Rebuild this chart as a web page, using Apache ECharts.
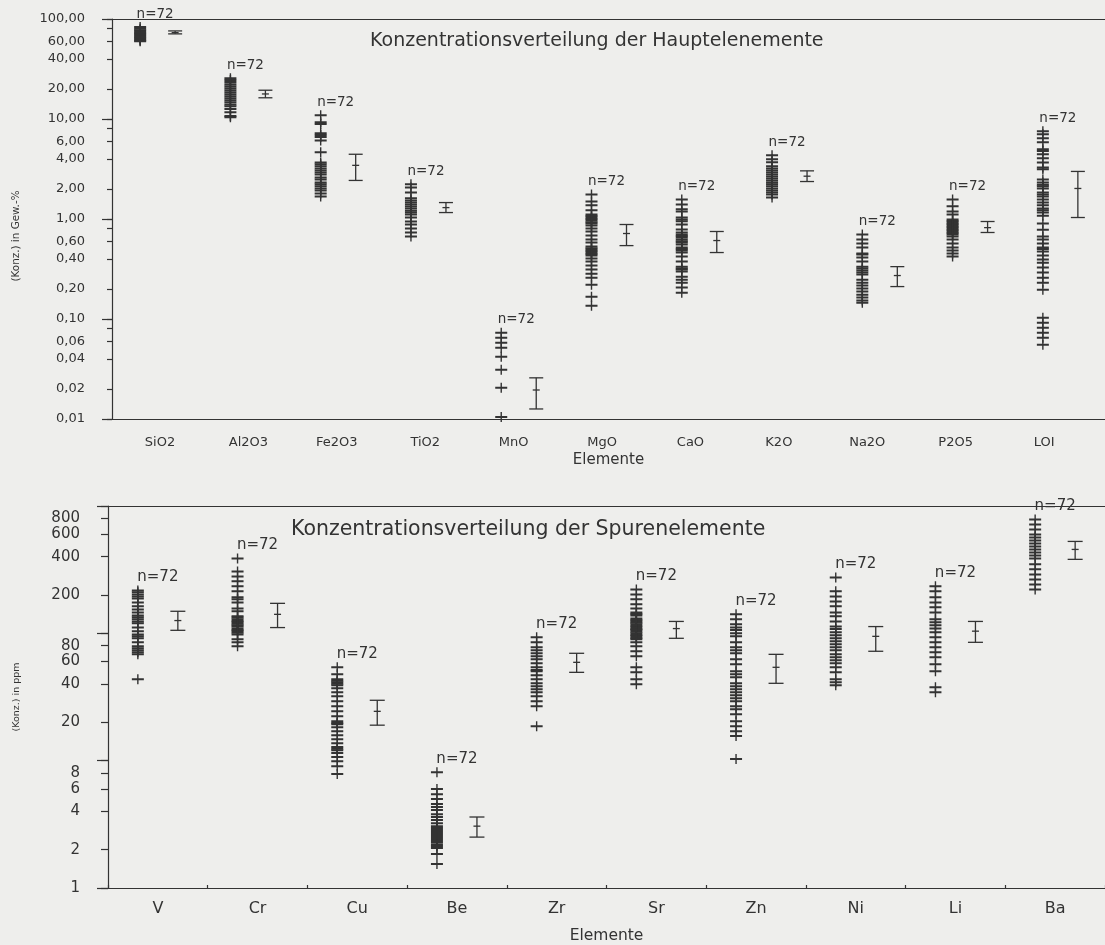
<!DOCTYPE html>
<html>
<head>
<meta charset="utf-8">
<script src="https://cdn.jsdelivr.net/npm/echarts@6/dist/echarts.min.js"></script>
<style>
  html, body { margin: 0; padding: 0; background: #eeeeec; }
  #chart { width: 1105px; height: 945px; }
</style>
</head>
<body>
<div id="chart"></div>
<script>
// categories
const majorElements = ['SiO2', 'Al2O3', 'Fe2O3', 'TiO2', 'MnO', 'MgO', 'CaO', 'K2O', 'Na2O', 'P2O5', 'LOI'];
const traceElements = ['V', 'Cr', 'Cu', 'Be', 'Zr', 'Sr', 'Zn', 'Ni', 'Li', 'Ba'];
const sampleCount = 72;

// Hauptelemente, Gew.-%
const sio2 = [83, 80, 77, 75, 72.5, 70.5, 68.5, 66.5, 64.5, 62.5, 61, 60];
const al2o3 = [25.6, 24.5, 23.4, 22.3, 21.3, 20.3, 19.4, 18.5, 17.7, 16.9, 16.1, 15.4, 14.7, 14.0, 13.4, 12.6, 11.7, 10.7, 10.4];
const fe2o3 = [10.9, 9.3, 8.9, 7.2, 6.9, 6.6, 6.1, 4.64, 3.68, 3.52, 3.36, 3.2, 3.06, 2.92, 2.79, 2.6, 2.49, 2.32, 2.22, 2.12, 2.02, 1.93, 1.8, 1.68];
const tio2 = [2.22, 2.07, 1.84, 1.61, 1.53, 1.46, 1.4, 1.33, 1.27, 1.21, 1.16, 1.11, 1.035, 0.944, 0.881, 0.803, 0.733, 0.668];
const mno = [0.0728, 0.0649, 0.0578, 0.0515, 0.0419, 0.031, 0.0205, 0.0105];
const mgo = [1.76, 1.5, 1.37, 1.22, 1.11, 1.07, 1.035, 1.0, 0.966, 0.93, 0.902, 0.861, 0.803, 0.75, 0.683, 0.623, 0.581, 0.53, 0.51, 0.495, 0.478, 0.462, 0.446, 0.431, 0.402, 0.375, 0.342, 0.312, 0.284, 0.259, 0.22, 0.167, 0.136];
const cao = [1.57, 1.4, 1.25, 1.19, 1.035, 0.989, 0.95, 0.881, 0.785, 0.732, 0.7, 0.675, 0.652, 0.623, 0.6, 0.581, 0.555, 0.518, 0.5, 0.483, 0.462, 0.421, 0.375, 0.334, 0.32, 0.312, 0.298, 0.265, 0.247, 0.231, 0.206, 0.183];
const k2o = [4.33, 3.95, 3.69, 3.36, 3.2, 3.06, 2.92, 2.79, 2.66, 2.54, 2.43, 2.32, 2.22, 2.12, 2.02, 1.93, 1.84, 1.76, 1.64];
const na2o = [0.7, 0.623, 0.568, 0.518, 0.452, 0.441, 0.411, 0.375, 0.334, 0.32, 0.306, 0.291, 0.278, 0.247, 0.231, 0.216, 0.202, 0.188, 0.175, 0.164, 0.153, 0.145];
const p2o5 = [1.57, 1.34, 1.19, 1.11, 0.989, 0.955, 0.922, 0.89, 0.861, 0.83, 0.803, 0.775, 0.75, 0.725, 0.7, 0.668, 0.623, 0.568, 0.518, 0.483, 0.451, 0.421];
const loi = [7.54, 7.03, 6.41, 5.85, 4.97, 4.8, 4.43, 4.04, 3.68, 3.28, 3.15, 2.49, 2.32, 2.2, 2.12, 2.02, 1.84, 1.76, 1.68, 1.57, 1.46, 1.37, 1.27, 1.22, 1.16, 1.08, 0.9, 0.78, 0.668, 0.623, 0.568, 0.518, 0.5, 0.472, 0.431, 0.393, 0.366, 0.327, 0.291, 0.259, 0.231, 0.196, 0.103, 0.0917, 0.0817, 0.0728, 0.0649, 0.0552];
const majorLow = [71, 16.3, 2.43, 1.16, 0.0126, 0.542, 0.462, 2.37, 0.211, 0.733, 1.035];
const majorMean = [73, 17.8, 3.44, 1.3, 0.0195, 0.716, 0.609, 2.68, 0.272, 0.82, 2.02];
const majorHigh = [76, 19.4, 4.44, 1.46, 0.0258, 0.881, 0.75, 3.03, 0.334, 0.944, 2.99];

// Spurenelemente, ppm
const v = [217, 210, 202, 195, 188, 175, 163, 154, 146, 138, 134, 129, 124, 120, 111, 104, 98, 94.7, 91.4, 85, 79, 76.4, 73.6, 71, 68.4, 43.6];
const cr = [387, 306, 280, 256, 234, 214, 192, 185, 175, 157, 149, 136, 133, 129, 125, 122, 119, 116, 113, 109, 106, 104, 101, 98, 89.7, 85, 79];
const cu = [54.1, 47.7, 43.6, 42.4, 41.3, 40.2, 39.1, 37, 34.5, 32.1, 29.3, 26.8, 24.4, 22.3, 20.4, 19.8, 19.3, 18.3, 17, 15.8, 14.7, 13.7, 12.8, 12.4, 12.1, 11.5, 10.7, 9.9, 9.05, 7.84];
const be = [8.12, 5.98, 5.46, 4.99, 4.56, 4.32, 4.09, 3.8, 3.61, 3.42, 3.23, 3.06, 2.96, 2.85, 2.75, 2.65, 2.56, 2.47, 2.38, 2.3, 2.21, 2.14, 2.06, 1.85, 1.54];
const zr = [93, 85, 77.7, 73.6, 69.7, 66, 62.5, 58.2, 54.1, 51.5, 50.4, 46.8, 43.6, 40.5, 38.4, 36.4, 34.5, 32.1, 29.3, 26.8, 18.6];
const sr = [221, 202, 185, 169, 157, 146, 142, 138, 131, 127, 124, 121, 118, 114, 111, 108, 106, 103, 100, 97, 94.7, 92, 89.7, 85, 79.1, 72.3, 66, 54.1, 49.4, 43.6, 39.8];
const zn = [141, 129, 118, 111, 106, 100, 94.7, 85, 77.7, 73.6, 69.7, 62.5, 57.1, 50.4, 47.7, 45.2, 40.5, 38.4, 36.4, 34.5, 32.6, 30.9, 29.3, 26.8, 25.3, 23.2, 20.4, 18.6, 17, 15.6, 10.3];
const ni = [275, 214, 195, 178, 163, 146, 136, 124, 113, 108, 102, 96.4, 91.4, 86.6, 82, 77.7, 73.6, 68.4, 64.8, 61.4, 58.2, 54.1, 49.4, 43.6, 41.3, 39.1];
const li = [234, 214, 192, 175, 160, 146, 129, 122, 116, 109, 102, 93, 85, 77.7, 71, 64.8, 57.1, 50.4, 37.7, 34.5];
const ba = [784, 716, 654, 598, 566, 536, 508, 481, 456, 432, 409, 387, 348, 318, 290, 265, 242, 221];
const traceLow = [105.6, 111, 19.0, 2.51, 49.4, 91.4, 40.5, 72.3, 85, 381];
const traceMean = [126, 141, 24.4, 3.06, 59.2, 109, 54.1, 94.7, 104, 456];
const traceHigh = [149, 172, 29.8, 3.61, 69.7, 124, 68.4, 113, 124, 527];

// axis ticks / labels
const majorTicks = [0.01, 0.02, 0.04, 0.06, 0.08, 0.1, 0.2, 0.4, 0.6, 0.8, 1, 2, 4, 6, 8, 10, 20, 40, 60, 80, 100];
const majorLabels = [0.01, 0.02, 0.04, 0.06, 0.1, 0.2, 0.4, 0.6, 1, 2, 4, 6, 10, 20, 40, 60, 100];
const majorDecades = [0.01, 0.1, 1, 10, 100];
const traceTicks = [1, 2, 4, 6, 8, 10, 20, 40, 60, 80, 100, 200, 400, 600, 800, 1000];
const traceLabels = [1, 2, 4, 6, 8, 20, 40, 60, 80, 200, 400, 600, 800];
const traceDecades = [1, 10, 100, 1000];

const majorValues = [sio2, al2o3, fe2o3, tio2, mno, mgo, cao, k2o, na2o, p2o5, loi];
const traceValues = [v, cr, cu, be, zr, sr, zn, ni, li, ba];

const ink = '#333333';
const font = 'DejaVu Sans';
const plusMark = 'path://M0,4L12,4L12,6L0,6Z M5.3,0L6.7,0L6.7,10L5.3,10Z';

var chart = echarts.init(document.getElementById('chart'));

// the printed category labels of the upper chart drift slightly left of the data columns
var labelRich = {};
majorElements.forEach(function (_, i) {
  var shift = 2.9 - 1.87 * i;
  labelRich['c' + i] = {
    color: ink, fontSize: 13, fontFamily: font,
    padding: shift >= 0 ? [0, 0, 0, 2 * shift] : [0, -2 * shift, 0, 0]
  };
});

function stripData(columns, labelShift, labelSize) {
  const data = [];
  columns.forEach(function (values, i) {
    const top = values.indexOf(Math.max.apply(null, values));
    values.forEach(function (val, k) {
      const item = { value: [i, val] };
      if (k === top) {
        item.label = {
          show: true, formatter: 'n=' + sampleCount, position: 'top', distance: 1,
          offset: [labelShift, 0], fontSize: labelSize, color: ink, fontFamily: font
        };
      }
      data.push(item);
    });
  });
  return data;
}

function errorBars(shift, cap) {
  return function (params, api) {
    const i = api.value(0);
    const lo = api.coord([i, api.value(1)]);
    const mid = api.coord([i, api.value(2)]);
    const hi = api.coord([i, api.value(3)]);
    const x = lo[0] + shift;
    const style = { stroke: ink, lineWidth: 1.3 };
    return {
      type: 'group',
      children: [
        { type: 'line', shape: { x1: x, y1: hi[1], x2: x, y2: lo[1] }, style: style },
        { type: 'line', shape: { x1: x - cap / 2, y1: hi[1], x2: x + cap / 2, y2: hi[1] }, style: style },
        { type: 'line', shape: { x1: x - cap / 2, y1: lo[1], x2: x + cap / 2, y2: lo[1] }, style: style },
        { type: 'line', shape: { x1: x - 3.5, y1: mid[1], x2: x + 3.5, y2: mid[1] }, style: style }
      ]
    };
  };
}

const lineStyle = { color: ink, width: 1.2 };

option = {
  backgroundColor: '#eeeeec',
  animation: false,
  title: [
    {
      text: 'Konzentrationsverteilung der Hauptelenemente', left: 370, top: 32, padding: 0,
      textStyle: { fontSize: 19, fontWeight: 'normal', color: ink, fontFamily: font }
    },
    {
      text: 'Konzentrationsverteilung der Spurenelemente', left: 291, top: 519, padding: 0,
      textStyle: { fontSize: 20.5, fontWeight: 'normal', color: ink, fontFamily: font }
    }
  ],
  grid: [
    { left: 112, top: 19, width: 993, height: 400 },
    { left: 108, top: 506, width: 1000, height: 383 }
  ],
  xAxis: [
    {
      type: 'category', gridIndex: 0, data: majorElements, position: 'bottom',
      axisLine: { lineStyle: lineStyle }, axisTick: { show: false },
      axisLabel: {
        interval: 0, hideOverlap: false,
        color: ink, fontSize: 13, margin: 17, fontFamily: font, rich: labelRich,
        formatter: function (name, i) { return '{c' + i + '|' + name + '}'; }
      },
      name: 'Elemente', nameLocation: 'middle', nameGap: 34,
      nameTextStyle: { color: ink, fontSize: 15, fontFamily: font }
    },
    {
      type: 'category', gridIndex: 0, data: majorElements, position: 'top',
      axisLine: { lineStyle: lineStyle }, axisTick: { show: false }, axisLabel: { show: false }
    },
    {
      type: 'category', gridIndex: 1, data: traceElements, position: 'bottom',
      axisLine: { lineStyle: lineStyle },
      axisTick: { show: true, inside: true, length: 3, lineStyle: lineStyle },
      axisLabel: { interval: 0, color: ink, fontSize: 16, margin: 13, fontFamily: font },
      name: 'Elemente', nameLocation: 'middle', nameGap: 40,
      nameTextStyle: { color: ink, fontSize: 15.5, fontFamily: font }
    },
    {
      type: 'category', gridIndex: 1, data: traceElements, position: 'top',
      axisLine: { lineStyle: lineStyle }, axisTick: { show: false }, axisLabel: { show: false }
    }
  ],
  yAxis: [
    {
      type: 'log', logBase: 10, gridIndex: 0, position: 'left', min: 0.01, max: 100,
      axisLine: { show: true, lineStyle: lineStyle },
      axisTick: { show: true, customValues: majorTicks, length: 5, lineStyle: lineStyle },
      axisLabel: {
        customValues: majorLabels, margin: 27, color: ink, fontSize: 13, fontFamily: font,
        formatter: function (val) { return Number(val).toFixed(2).replace('.', ','); }
      },
      splitLine: { show: false },
      name: '(Konz.) in Gew.-%', nameLocation: 'middle', nameGap: 91,
      nameTextStyle: { color: ink, fontSize: 10.4, fontFamily: font, padding: [0, 34, 0, 0] }
    },
    {
      type: 'log', logBase: 10, gridIndex: 0, position: 'left', min: 0.01, max: 100,
      axisLine: { show: false },
      axisTick: { show: true, customValues: majorDecades, length: 10, lineStyle: lineStyle },
      axisLabel: { show: false }, splitLine: { show: false }
    },
    {
      type: 'log', logBase: 10, gridIndex: 1, position: 'left', min: 1, max: 1000,
      axisLine: { show: true, lineStyle: lineStyle },
      axisTick: { show: true, customValues: traceTicks, length: 7, lineStyle: lineStyle },
      axisLabel: {
        customValues: traceLabels, margin: 28, color: ink, fontSize: 15, fontFamily: font,
        formatter: function (val) { return String(Math.round(val)); }
      },
      splitLine: { show: false },
      name: '(Konz.) in ppm', nameLocation: 'middle', nameGap: 86,
      nameTextStyle: { color: ink, fontSize: 9.5, fontFamily: font }
    },
    {
      type: 'log', logBase: 10, gridIndex: 1, position: 'left', min: 1, max: 1000,
      axisLine: { show: false },
      axisTick: { show: true, customValues: traceDecades, length: 11, lineStyle: lineStyle },
      axisLabel: { show: false }, splitLine: { show: false }
    }
  ],
  series: [
    {
      type: 'scatter', xAxisIndex: 0, yAxisIndex: 0, clip: false, silent: true,
      symbol: plusMark, symbolSize: [12, 10], symbolOffset: [-17, 0],
      itemStyle: { color: ink, opacity: 1 },
      data: stripData(majorValues, 15, 13.5)
    },
    {
      type: 'custom', xAxisIndex: 0, yAxisIndex: 0, silent: true,
      renderItem: errorBars(18, 14),
      encode: { x: 0, y: [1, 2, 3] },
      data: majorElements.map(function (_, i) { return [i, majorLow[i], majorMean[i], majorHigh[i]]; })
    },
    {
      type: 'scatter', xAxisIndex: 2, yAxisIndex: 2, clip: false, silent: true,
      symbol: plusMark, symbolSize: [12, 10], symbolOffset: [-20, 0],
      itemStyle: { color: ink, opacity: 1 },
      data: stripData(traceValues, 20, 15)
    },
    {
      type: 'custom', xAxisIndex: 2, yAxisIndex: 2, silent: true,
      renderItem: errorBars(20, 15),
      encode: { x: 0, y: [1, 2, 3] },
      data: traceElements.map(function (_, i) { return [i, traceLow[i], traceMean[i], traceHigh[i]]; })
    }
  ]
};

chart.setOption(option);

window.onresize = function () {
  chart.resize();
};
</script>
</body>
</html>
